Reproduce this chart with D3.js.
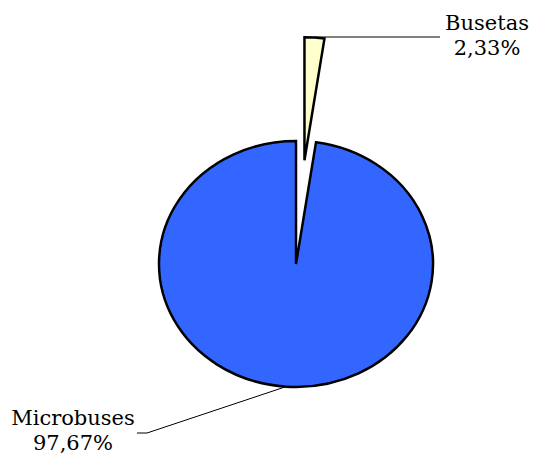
<!DOCTYPE html>
<html>
<head>
<meta charset="utf-8">
<script src="https://cdn.jsdelivr.net/npm/d3@7"></script>
<style>
    body { margin: 0; background: #fff; }
    text { font-family: "DejaVu Serif", serif; font-size: 21px; fill: #000; }
</style>
</head>
<body>
<script>
(function () {

//chart data
    var categories = ["Busetas", "Microbuses"];
    var values = [2.33, 97.67];
    var valueLabels = ["2,33%", "97,67%"];
    var colors = ["#FFFFCC", "#3366FF"];

    var width = 533,
        height = 455,
        cx = 296,
        cy = 264,
        radius = 123,
        stretchX = 137 / 123,   //pie is drawn a bit wider than tall
        explode = 104;          //distance the Busetas slice is pulled out

    //label placement: [anchor x, first baseline, elbow x, elbow y]
    var labelPos = [
        [487, 30, 440, 37],
        [73, 425, 147, 433]
    ];

    var svg = d3.select("body")
        .append("svg")
        .attr("width", width)
        .attr("height", height);

    var pie = d3.pie()
        .sort(null)
        .value(function (d) { return d; });

    var arc = d3.arc()
        .innerRadius(0)
        .outerRadius(radius);

    var slices = pie(values);

    //offset of each slice (only the first one is exploded)
    function offset(d, i) {
        var mid = (d.startAngle + d.endAngle) / 2,
            dist = i === 0 ? explode : 0;
        return [Math.sin(mid) * dist, -Math.cos(mid) * dist];
    }

    //point on the outer rim at the middle angle, in screen coords
    function rimPoint(d, i) {
        var mid = (d.startAngle + d.endAngle) / 2,
            o = offset(d, i);
        return [
            cx + (Math.sin(mid) * radius + o[0]) * stretchX,
            cy - Math.cos(mid) * radius + o[1]
        ];
    }

    var pieGroup = svg.append("g")
        .attr("transform", "translate(" + cx + "," + cy + ") scale(" + stretchX + ",1)");

    pieGroup.selectAll(".slice")
        .data(slices)
        .enter()
        .append("path")
        .attr("class", "slice")
        .attr("d", arc)
        .attr("transform", function (d, i) {
            var o = offset(d, i);
            return "translate(" + o[0] + "," + o[1] + ")";
        })
        .style("fill", function (d, i) { return colors[i]; })
        .style("stroke", "#000")
        .style("stroke-width", 2.5)
        .style("stroke-linejoin", "miter")
        .attr("vector-effect", "non-scaling-stroke");

    //leader lines
    svg.selectAll(".leader")
        .data(slices)
        .enter()
        .append("polyline")
        .attr("class", "leader")
        .attr("points", function (d, i) {
            var p = rimPoint(d, i),
                lp = labelPos[i];
            if (i === 0) {
                return [[p[0], lp[3]], [lp[2], lp[3]]].join(" ");
            }
            return [p, [lp[2], lp[3]], [lp[2] - 10, lp[3]]].join(" ");
        })
        .style("fill", "none")
        .style("stroke", "#000")
        .style("stroke-width", 1);

    //labels
    var labels = svg.selectAll(".label")
        .data(categories)
        .enter()
        .append("text")
        .attr("class", "label")
        .attr("text-anchor", "middle");

    labels.append("tspan")
        .attr("x", function (d, i) { return labelPos[i][0]; })
        .attr("y", function (d, i) { return labelPos[i][1]; })
        .text(function (d) { return d; });

    labels.append("tspan")
        .attr("x", function (d, i) { return labelPos[i][0]; })
        .attr("y", function (d, i) { return labelPos[i][1] + 25; })
        .text(function (d, i) { return valueLabels[i]; });

})();
</script>
</body>
</html>
